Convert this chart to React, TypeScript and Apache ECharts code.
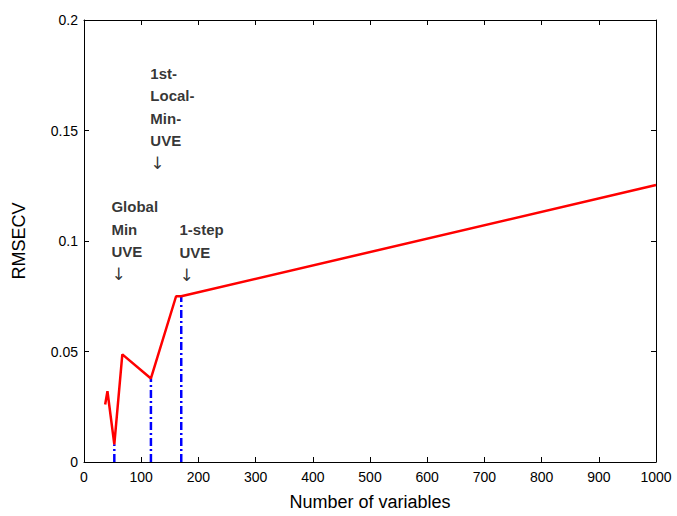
import React, { useEffect, useRef } from "react";
import * as echarts from "echarts";

const numVars = [37, 41, 53, 67, 117, 161, 170, 1000];
const rmsecv = [0.026, 0.032, 0.008, 0.0487, 0.0378, 0.075, 0.075, 0.1253];

const markerVars = [53, 117, 170];
const markerValues = [0.008, 0.0378, 0.075];

const annotationLines = [["Global", "Min", "UVE"], ["1st-", "Local-", "Min-", "UVE"], ["1-step", "UVE"]];
const annotationX = [48, 116, 167];
const annotationY = [0.1003, 0.1555, 0.0948];

const xTicks = [0, 100, 200, 300, 400, 500, 600, 700, 800, 900, 1000];
const yTicks = [0, 0.05, 0.1, 0.15, 0.2];

export default function App() {
  const ref = useRef<HTMLDivElement>(null);
  useEffect(() => {
    if (!ref.current) return;
    const chart = echarts.init(ref.current, undefined, { renderer: "svg" });
    const font = "Liberation Sans, Arial, sans-serif";
    const axisLine = { show: true, onZero: false, lineStyle: { color: "#000", width: 1 } };
    const tick = { show: true, inside: true, length: 5, lineStyle: { color: "#000" } };
    const markerSeries = markerVars.map((x, i) => ({
      type: "line",
      data: [
        [x, 0],
        [x, markerValues[i]],
      ],
      symbol: "none",
      lineStyle: { color: "#0000ff", width: 2.5, type: [8, 3, 2, 3] },
      z: 3,
    }));
    chart.setOption({
      animation: false,
      grid: { left: 84, right: 21, top: 20, bottom: 48, containLabel: false },
      xAxis: [
        {
          type: "value",
          min: xTicks[0],
          max: xTicks[xTicks.length - 1],
          interval: 100,
          name: "Number of variables",
          nameLocation: "middle",
          nameGap: 31,
          nameTextStyle: { fontSize: 18, color: "#000", fontFamily: font },
          axisLine,
          axisTick: tick,
          splitLine: { show: false },
          axisLabel: { fontSize: 14, color: "#000", fontFamily: font, margin: 8, formatter: (v: number) => String(v) },
        },
        {
          type: "value",
          position: "top",
          min: xTicks[0],
          max: xTicks[xTicks.length - 1],
          interval: 100,
          axisLine,
          axisTick: tick,
          splitLine: { show: false },
          axisLabel: { show: false },
        },
      ],
      yAxis: [
        {
          type: "value",
          min: yTicks[0],
          max: yTicks[yTicks.length - 1],
          interval: 0.05,
          name: "RMSECV",
          nameLocation: "middle",
          nameGap: 56,
          nameTextStyle: { fontSize: 18, color: "#000", fontFamily: font },
          axisLine,
          axisTick: tick,
          splitLine: { show: false },
          axisLabel: { fontSize: 14, color: "#000", fontFamily: font, margin: 6 },
        },
        {
          type: "value",
          position: "right",
          min: yTicks[0],
          max: yTicks[yTicks.length - 1],
          interval: 0.05,
          axisLine,
          axisTick: tick,
          splitLine: { show: false },
          axisLabel: { show: false },
        },
      ],
      series: [
        ...markerSeries,
        {
          type: "line",
          data: numVars.map((x, i) => [x, rmsecv[i]]),
          symbol: "none",
          lineStyle: { color: "#ff0000", width: 2.5 },
          z: 4,
        },
        {
          type: "scatter",
          symbolSize: 0,
          data: annotationX.map((x, i) => ({ value: [x, annotationY[i]], name: String(i) })),
          label: {
            show: true,
            position: [0, 0],
            align: "left",
            verticalAlign: "middle",
            formatter: (p: any) =>
              annotationLines[Number(p.name)].map((s) => "{b|" + s + "}").join("\n") + "\n{a|↓}",
            lineHeight: 22.5,
            rich: {
              b: { fontSize: 15, fontWeight: "bold", color: "#000", fontFamily: font, lineHeight: 22.5 },
              a: { fontSize: 17, fontWeight: "normal", color: "#000", fontFamily: "DejaVu Sans", lineHeight: 22.5 },
            },
          },
          silent: true,
        },
      ],
    });
    return () => chart.dispose();
  }, []);
  return <div ref={ref} style={{ position: "absolute", left: 0, top: 0, width: 677, height: 516 }} />;
}
